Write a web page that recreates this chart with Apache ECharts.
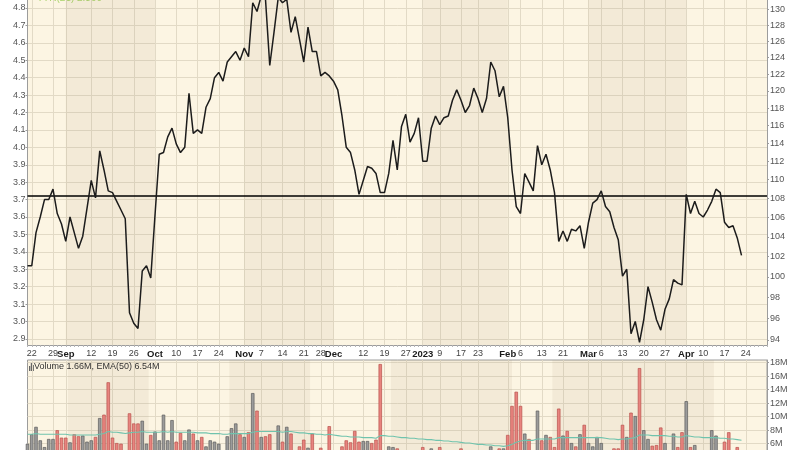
<!DOCTYPE html>
<html><head><meta charset="utf-8">
<script src="https://cdn.jsdelivr.net/npm/echarts@6/dist/echarts.min.js"></script>
<style>html,body{margin:0;padding:0;background:#fff}#c{width:800px;height:450px}</style>
</head><body><div id="c"></div>
<script>
// ---- categories (US trading days) ----
const holidays = ['2022-09-05','2022-11-24','2022-12-26','2023-01-02','2023-01-16','2023-02-20','2023-04-07'];
const dates = [];
for (let d = new Date(Date.UTC(2022,7,19)); d.getTime() <= Date.UTC(2023,4,1); d.setUTCDate(d.getUTCDate()+1)) {
  const dow = d.getUTCDay(); const s = d.toISOString().slice(0,10);
  if (dow > 0 && dow < 6 && holidays.indexOf(s) < 0) dates.push(s);
}
// ---- date tick labels ----
const tickDates = ['2022-08-22','2022-08-29','2022-09-01','2022-09-12','2022-09-19','2022-09-26','2022-10-03','2022-10-10','2022-10-17','2022-10-24','2022-11-01','2022-11-07','2022-11-14','2022-11-21','2022-11-28','2022-12-01','2022-12-12','2022-12-19','2022-12-27','2023-01-03','2023-01-09','2023-01-17','2023-01-23','2023-02-01','2023-02-06','2023-02-13','2023-02-21','2023-03-01','2023-03-06','2023-03-13','2023-03-20','2023-03-27','2023-04-03','2023-04-10','2023-04-17','2023-04-24'];
const tickText = ['22','29','Sep','12','19','26','Oct','10','17','24','Nov','7','14','21','28','Dec','12','19','27','2023','9','17','23','Feb','6','13','21','Mar','6','13','20','27','Apr','10','17','24'];
const boldTicks = ['Sep','Oct','Nov','Dec','2023','Feb','Mar','Apr'];
const shadeMonths = [['2022-09-01','2022-10-03'],['2022-11-01','2022-12-01'],['2023-01-03','2023-02-01'],['2023-03-01','2023-04-03']];
// ---- axis tick values ----
const leftTicks = [2.9,3.0,3.1,3.2,3.3,3.4,3.5,3.6,3.7,3.8,3.9,4.0,4.1,4.2,4.3,4.4,4.5,4.6,4.7,4.8];
const rightTicks = [94,96,98,100,102,104,106,108,110,112,114,116,118,120,122,124,126,128,130];
const volTicks = [2,4,6,8,10,12,14,16,18];
// ---- series values ----
const price = [
3.32,3.32,3.51,3.60,3.70,3.70,3.76,3.62,3.56,3.46,
3.60,3.51,3.42,3.49,3.65,3.81,3.71,3.98,3.87,3.75,
3.74,3.69,3.64,3.59,3.05,2.99,2.96,3.29,3.32,3.25,
3.61,3.96,3.97,4.06,4.11,4.02,3.97,4.00,4.31,4.08,
4.10,4.08,4.23,4.28,4.40,4.43,4.38,4.49,4.52,4.55,
4.50,4.57,4.52,4.83,4.78,4.87,4.85,4.47,4.66,4.86,
4.83,4.85,4.66,4.75,4.62,4.49,4.69,4.55,4.55,4.41,
4.43,4.41,4.38,4.33,4.18,4.00,3.97,3.87,3.73,3.81,
3.89,3.88,3.85,3.74,3.74,3.85,4.04,3.87,4.12,4.19,
4.03,4.08,4.17,3.92,3.92,4.11,4.18,4.13,4.17,4.18,
4.27,4.33,4.27,4.20,4.24,4.34,4.28,4.20,4.28,4.49,
4.44,4.29,4.35,4.17,3.87,3.66,3.62,3.85,3.80,3.75,
4.01,3.90,3.96,3.87,3.74,3.46,3.52,3.46,3.53,3.52,
3.55,3.42,3.57,3.68,3.70,3.75,3.66,3.63,3.54,3.47,
3.26,3.30,2.93,3.00,2.88,3.01,3.20,3.11,3.01,2.95,
3.07,3.13,3.24,3.22,3.21,3.73,3.62,3.69,3.62,3.60,
3.64,3.69,3.76,3.74,3.57,3.54,3.55,3.48,3.38];
const levelLine = 3.72;
const volume = [
6.0,7.4,8.5,6.5,5.5,6.7,6.7,8.0,6.9,6.9,
6.2,7.4,7.1,7.2,6.3,6.5,7.0,9.8,10.3,15.1,
6.9,6.1,6.0,4.8,10.5,9.0,9.0,9.4,6.0,7.3,
7.8,6.5,10.3,6.5,9.5,6.3,7.6,6.5,8.1,7.5,
6.5,7.0,5.6,6.5,6.3,6.0,4.9,7.1,8.3,9.0,
7.4,7.0,7.7,13.5,10.9,7.0,7.1,7.4,5.0,8.7,
6.3,8.5,7.5,5.0,5.6,6.6,5.4,7.5,4.8,5.4,
4.8,8.6,4.8,4.9,5.6,6.5,6.2,7.9,6.3,6.4,
6.4,6.1,6.6,17.8,4.9,5.6,5.5,5.3,4.5,4.2,
4.6,4.3,4.0,5.5,4.6,5.3,4.7,5.5,4.4,4.6,
4.2,4.5,5.3,4.3,4.6,4.4,4.2,4.7,4.5,5.6,
4.6,5.3,5.3,7.3,11.6,13.7,11.6,7.5,6.7,4.9,
10.9,6.5,7.3,7.0,5.5,11.2,7.2,7.9,6.1,5.6,
7.4,8.8,6.1,5.6,7.0,6.1,4.8,4.7,5.3,5.3,
8.8,7.0,10.6,10.1,17.2,8.0,6.7,5.7,5.8,8.4,
6.1,4.8,7.5,5.5,7.7,12.3,5.5,5.8,4.7,4.5,
4.8,8.0,7.2,4.9,6.3,7.7,4.8,5.5,1.66];
const volEma = [
7.4,7.4,7.5,7.4,7.4,7.4,7.4,7.4,7.4,7.4,7.3,7.3,7.3,7.3,7.3,7.3,7.3,
7.4,7.5,7.8,7.7,7.7,7.6,7.5,
7.6,7.7,7.7,7.8,7.7,7.7,
7.7,7.7,7.8,7.7,7.8,7.7,7.7,7.7,7.7,7.7,
7.6,7.6,7.6,7.5,7.5,7.5,7.4,7.4,7.5,7.5,
7.5,7.5,7.5,7.7,7.8,7.8,7.8,
7.8,7.8,7.8,7.7,7.8,7.8,7.7,7.6,7.6,7.5,7.5,7.4,7.4,
7.3,7.4,7.3,7.2,7.1,7.1,7.0,7.0,7.0,6.9,6.9,6.9,6.8,
7.2,7.2,7.1,7.1,7.0,6.9,6.9,6.8,6.8,6.7,
6.7,6.6,6.6,6.5,6.5,6.4,6.4,6.3,6.3,6.2,6.1,6.1,6.0,5.9,5.9,5.8,5.8,5.7,
5.7,5.6,5.7,5.9,6.2,6.4,6.5,6.5,6.5,6.7,
6.7,6.7,6.7,6.7,6.9,6.9,6.9,6.9,6.9,6.9,6.9,6.9,6.9,6.9,6.9,
6.8,6.7,6.7,6.6,6.7,6.7,
6.8,6.9,7.3,7.3,
7.3,7.2,7.2,7.2,7.2,7.1,7.1,7.0,7.0,7.2,
7.1,7.0,7.0,6.9,6.9,6.9,6.9,6.8,6.8,6.7,6.7,6.6,6.5];

// ---- layout ----
const PL = 27.5, PR = 33;
const L_TOP = 4.846, L_BOT = 2.865;                 // left axis range for price pane (0..345px)
const R_TOP = Math.log(131.19), R_BOT = Math.log(93.54);
const BG = '#fcf5e3', GRID = '#e2dac6', SHADE = 'rgba(160,135,95,0.09)', AX = '#9c9c9c';
const FONT = 'Liberation Sans, Arial, sans-serif';

const tickMap = {}; tickDates.forEach((d,i)=>tickMap[d]=tickText[i]);
const isTick = (i,v)=> tickMap[v] !== undefined;
const shadeData = shadeMonths.map(m=>[{xAxis:m[0]},{xAxis:m[1]}]);

const volData = volume.map((v,i)=>{
  const down = i>0 && price[i] < price[i-1];
  return {value:v, itemStyle: down ? {color:'#e8847f', borderColor:'#b9514c', borderWidth:0.7}
                                   : {color:'#9b9b9b', borderColor:'#5c5c5c', borderWidth:0.7}};
});

const chart = echarts.init(document.getElementById('c'), null, {renderer:'canvas'});
chart.setOption({
  animation:false,
  backgroundColor:'#ffffff',
  textStyle:{fontFamily:FONT},
  grid:[
    {left:PL, right:PR, top:0, height:345, show:true, backgroundColor:BG, borderWidth:0, containLabel:false, outerBoundsMode:'none'},
    {left:PL, right:PR, top:360, height:124.2, show:true, backgroundColor:BG, borderColor:AX, borderWidth:1, containLabel:false, outerBoundsMode:'none'}
  ],
  xAxis:[
    {type:'category', gridIndex:0, data:dates, boundaryGap:false,
     axisLine:{show:true, lineStyle:{color:AX}},
     axisTick:{show:true, interval:0, length:2, lineStyle:{color:'#b5b5b5'}},
     axisLabel:{interval:isTick, margin:4, fontSize:9, color:'#444', fontFamily:FONT, hideOverlap:false,
       formatter:(v)=>{const t=tickMap[v]; return boldTicks.indexOf(t)>=0 ? '{b|'+t+'}' : t;},
       rich:{b:{fontWeight:'bold', fontSize:9.5, color:'#1a1a1a', fontFamily:FONT}}},
     splitLine:{show:true, interval:isTick, lineStyle:{color:GRID, width:1}}},
    {type:'category', gridIndex:1, data:dates, boundaryGap:false, position:'top',
     axisLine:{show:true, lineStyle:{color:AX, type:'dashed'}}, axisTick:{show:false}, axisLabel:{show:false},
     splitLine:{show:true, interval:isTick, lineStyle:{color:GRID, width:1}}}
  ],
  yAxis:[
    {type:'value', gridIndex:0, position:'left', min:L_BOT, max:L_TOP,
     axisLine:{show:true, lineStyle:{color:AX}},
     axisTick:{show:true, length:2, customValues:leftTicks, lineStyle:{color:AX}},
     axisLabel:{customValues:leftTicks, formatter:(v)=>v.toFixed(1), fontSize:9, color:'#555', margin:2, fontFamily:FONT},
     splitLine:{show:true, lineStyle:{color:GRID, width:1}}},
    {type:'value', gridIndex:0, position:'right', min:R_BOT, max:R_TOP,
     axisLine:{show:true, lineStyle:{color:AX}},
     axisTick:{show:true, length:2, customValues:rightTicks.map(v=>Math.log(v)), lineStyle:{color:AX}},
     axisLabel:{customValues:rightTicks.map(v=>Math.log(v)), formatter:(v)=>String(Math.round(Math.exp(v))), fontSize:9, color:'#555', margin:3, fontFamily:FONT},
     splitLine:{show:false}},
    {type:'value', gridIndex:1, position:'right', min:0, max:18.4,
     axisLine:{show:true, lineStyle:{color:AX}},
     axisTick:{show:true, length:2, customValues:volTicks, lineStyle:{color:AX}},
     axisLabel:{customValues:volTicks, formatter:(v)=>v+'M', fontSize:9, color:'#555', margin:3, fontFamily:FONT},
     splitLine:{show:true, lineStyle:{color:GRID, width:1}}}
  ],
  series:[
    {type:'line', xAxisIndex:0, yAxisIndex:0, data:price, symbol:'none', z:5,
     lineStyle:{color:'#1c1c1c', width:1.5},
     markArea:{silent:true, itemStyle:{color:SHADE}, data:shadeData},
     markLine:{silent:true, symbol:['none','none'], label:{show:false},
       lineStyle:{color:'#000', width:1.6, type:'solid'}, data:[{yAxis:levelLine}]}},
    {type:'bar', xAxisIndex:1, yAxisIndex:2, data:volData, barWidth:3.4, z:3,
     markArea:{silent:true, itemStyle:{color:SHADE}, data:shadeData}},
    {type:'line', xAxisIndex:1, yAxisIndex:2, data:volEma, symbol:'none', z:4,
     lineStyle:{color:'#6fc3ad', width:1.1}}
  ],
  graphic:[
    {type:'text', left:37, top:-7, style:{text:'TTR(21) 2.800', fill:'#a9d36b', font:'10px '+FONT}},
    {type:'group', left:29, top:363, z:10, children:[
      {type:'rect', shape:{x:0,y:3,width:1.3,height:5}, style:{fill:'#666'}},
      {type:'rect', shape:{x:1.8,y:0,width:1.3,height:8}, style:{fill:'#666'}},
      {type:'rect', shape:{x:3.6,y:2,width:1.3,height:6}, style:{fill:'#666'}}
    ]},
    {type:'text', left:34, top:362, z:10, style:{text:'Volume 1.66M, EMA(50) 6.54M', fill:'#333', font:'9px '+FONT}}
  ]
});
</script></body></html>
